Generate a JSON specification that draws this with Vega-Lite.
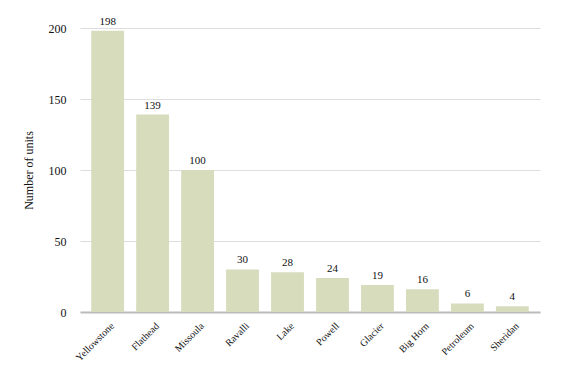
{
  "$schema": "https://vega.github.io/schema/vega-lite/v6.json",
  "width": 460,
  "height": 284,
  "autosize": {"type": "none"},
  "padding": {"left": 80, "top": 28, "right": 30, "bottom": 69},
  "background": "white",
  "config": {
    "font": "Liberation Serif",
    "axis": {"labelFont": "Liberation Serif", "titleFont": "Liberation Serif"},
    "text": {"font": "Liberation Serif"},
    "view": {"stroke": null}
  },
  "data": {
    "values": [
      {"county": "Yellowstone", "units": 198},
      {"county": "Flathead", "units": 139},
      {"county": "Missoula", "units": 100},
      {"county": "Ravalli", "units": 30},
      {"county": "Lake", "units": 28},
      {"county": "Powell", "units": 24},
      {"county": "Glacier", "units": 19},
      {"county": "Big Horn", "units": 16},
      {"county": "Petroleum", "units": 6},
      {"county": "Sheridan", "units": 4}
    ]
  },
  "encoding": {
    "x": {
      "field": "county",
      "type": "nominal",
      "sort": null,
      "scale": {"paddingInner": 0.27, "paddingOuter": 0.25},
      "axis": {
        "title": null,
        "labelAngle": -45,
        "labelAlign": "right",
        "labelBaseline": "middle",
        "labelFont": "Liberation Serif",
        "labelFontSize": 10,
        "labelColor": "#111",
        "labelPadding": 12,
        "labelOffset": 5,
        "ticks": false,
        "domainColor": "#bbbbbb",
        "domainWidth": 2,
        "grid": false
      }
    },
    "y": {
      "field": "units",
      "type": "quantitative",
      "scale": {"domain": [0, 200], "nice": false},
      "axis": {
        "title": "Number of units",
        "titleFont": "Liberation Serif",
        "titleFontWeight": "normal",
        "titleFontSize": 12,
        "titleColor": "#111",
        "titlePadding": 13,
        "values": [0, 50, 100, 150, 200],
        "labelFont": "Liberation Serif",
        "labelFontSize": 12,
        "labelColor": "#111",
        "labelPadding": 14,
        "ticks": false,
        "domain": false,
        "gridColor": "#dddddd",
        "gridWidth": 1
      }
    }
  },
  "layer": [
    {"mark": {"type": "bar", "color": "#d6dcbc"}},
    {
      "mark": {"type": "text", "dy": -9, "fontSize": 11, "font": "Liberation Serif", "color": "#111"},
      "encoding": {"text": {"field": "units", "type": "quantitative"}}
    }
  ]
}
